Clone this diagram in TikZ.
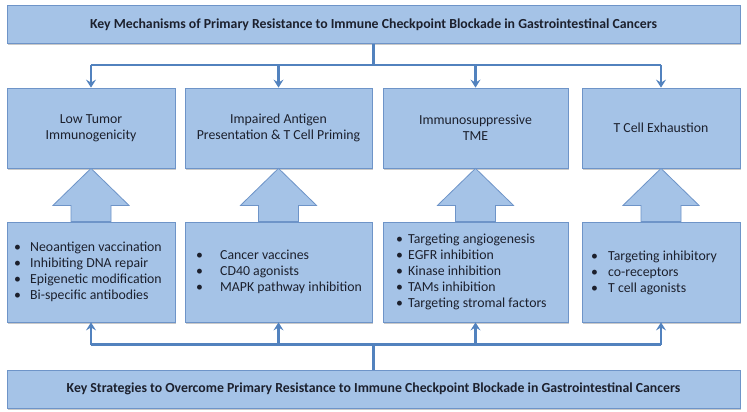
\documentclass[tikz,border=0pt]{standalone}
\usepackage{fontspec}
\setmainfont{Carlito}
\usetikzlibrary{arrows.meta,calc,shadows}
\definecolor{boxfill}{RGB}{165,195,231}
\definecolor{boxline}{RGB}{110,148,200}
\definecolor{connc}{RGB}{82,130,190}
\definecolor{txt}{RGB}{28,32,45}
\newcommand{\bl}[2]{\makebox[#1][l]{•}#2}
\begin{document}
\begin{tikzpicture}[x=1pt,y=-1pt,
  box/.style={draw=boxline,line width=0.8pt,fill=boxfill,rectangle,inner sep=0pt,
    text=txt,drop shadow={shadow xshift=0.8pt,shadow yshift=-1.6pt,opacity=0.35,fill=black!60}},
  conn/.style={draw=connc,line width=2.4pt},
  carrow/.style={conn,-{Stealth[length=8pt,width=10pt,inset=3pt]}},
  barrow/.style={draw=boxline,line width=0.8pt,fill=boxfill},
  mtext/.style={font=\fontsize{13.8}{16}\selectfont,align=center,text=txt},
  stext/.style={font=\fontsize{13.8}{16}\selectfont,align=left,text=txt,anchor=west,inner sep=0pt}]
\useasboundingbox (0,0) rectangle (747,412);
\fill[white] (0,0) rectangle (747,412);
% top and bottom boxes
\node[box,minimum width=733pt,minimum height=38pt,font=\fontsize{13.8}{16}\selectfont\bfseries] (title) at (373.5,24.5)
  {Key Mechanisms of Primary Resistance to Immune Checkpoint Blockade in Gastrointestinal Cancers};
\node[box,minimum width=733pt,minimum height=38pt,font=\fontsize{13.8}{16}\selectfont\bfseries] (bottom) at (373.5,389)
  {Key Strategies to Overcome Primary Resistance to Immune Checkpoint Blockade in Gastrointestinal Cancers};
% mechanism boxes
\node[box,minimum width=168pt,minimum height=80pt] (m1) at (91,128) {};
\node[box,minimum width=187pt,minimum height=80pt] (m2) at (278.5,128) {};
\node[box,minimum width=185pt,minimum height=80pt] (m3) at (475.5,128) {};
\node[box,minimum width=158pt,minimum height=80pt] (m4) at (661,128) {};
\node[mtext] (t1) at (m1) {Low Tumor\\Immunogenicity};
\node[mtext] (t2) at (m2) {Impaired Antigen\\Presentation \& T Cell Priming};
\node[mtext] (t3) at (m3) {Immunosuppressive\\TME};
\node[mtext] (t4) at (m4) {T Cell Exhaustion};
% strategy boxes
\node[box,minimum width=168pt,minimum height=100pt] (s1) at (91,272) {};
\node[box,minimum width=187pt,minimum height=100pt] (s2) at (278.5,272) {};
\node[box,minimum width=185pt,minimum height=100pt] (s3) at (475.5,272) {};
\node[box,minimum width=158pt,minimum height=100pt] (s4) at (661,272) {};
\node[stext] (l1) at (14,272) {\bl{16pt}{Neoantigen vaccination}\\\bl{16pt}{Inhibiting DNA repair}\\\bl{16pt}{Epigenetic modification}\\\bl{16pt}{Bi-specific antibodies}};
\node[stext] (l2) at (196,272) {\bl{24pt}{Cancer vaccines}\\\bl{24pt}{CD40 agonists}\\\bl{24pt}{MAPK pathway inhibition}};
\node[stext] (l3) at (396,272) {\bl{12pt}{Targeting angiogenesis}\\\bl{12pt}{EGFR inhibition}\\\bl{12pt}{Kinase inhibition}\\\bl{12pt}{TAMs inhibition}\\\bl{12pt}{Targeting stromal factors}};
\node[stext] (l4) at (591,273) {\bl{17pt}{Targeting inhibitory}\\\bl{17pt}{co-receptors}\\\bl{17pt}{T cell agonists}};
% block arrows
\foreach \i in {1,2,3,4}{
  \draw[barrow] (m\i.south) -- ($(m\i.south)+(38,37)$) -- ($(m\i.south)+(20,37)$)
    -- ($(s\i.north)+(20,0)$) -- ($(s\i.north)+(-20,0)$) -- ($(m\i.south)+(-20,37)$)
    -- ($(m\i.south)+(-38,37)$) -- cycle;
}
% top connectors
\draw[conn] (title.south) -- ++(0,21) coordinate (j1);
\draw[conn] (j1 -| m1.north) -- (j1 -| m4.north);
\foreach \i in {1,2,3,4}{
  \draw[carrow] (j1 -| m\i.north) -- (m\i.north);
}
% bottom connectors
\draw[conn] (bottom.north) -- ++(0,-25) coordinate (j2);
\draw[conn] (j2 -| s1.south) -- (j2 -| s4.south);
\foreach \i in {1,2,3,4}{
  \draw[carrow] (j2 -| s\i.south) -- (s\i.south);
}
\end{tikzpicture}
\end{document}
